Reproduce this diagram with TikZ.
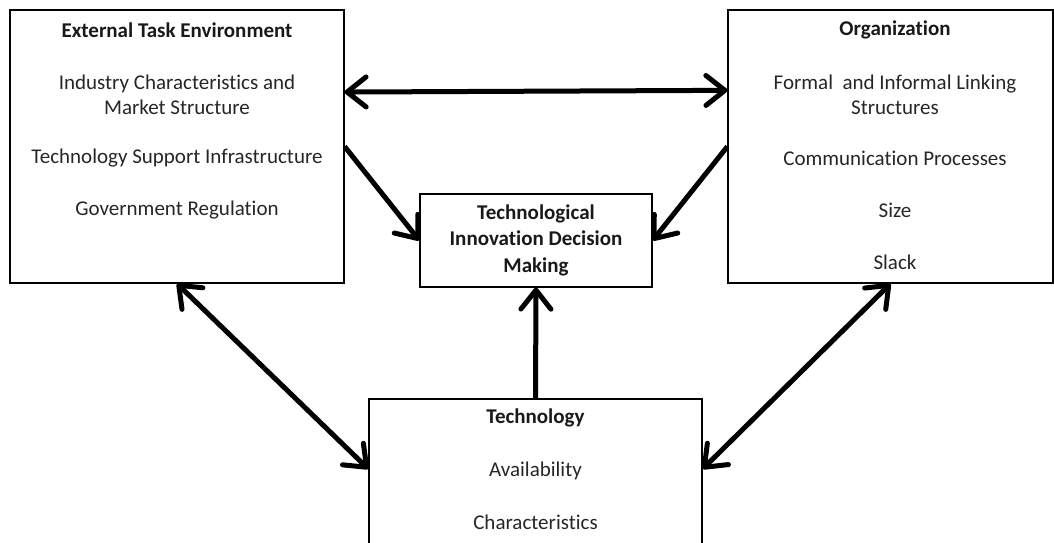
\documentclass[tikz,border=0pt]{standalone}
\usepackage{fontspec}
\setmainfont{Carlito}[Ligatures=NoCommon]
\usetikzlibrary{arrows.meta}

\begin{document}
\begin{tikzpicture}[x=1pt,y=-1pt,
  box/.style={draw, line width=1.2pt, inner sep=0pt},
  head/.style={font=\fontsize{21}{25}\selectfont\bfseries, text=black!90},
  item/.style={font=\fontsize{21}{25}\selectfont, text=black!85, align=center},
  arr/.style={line width=5pt, -{Straight Barb[length=19pt,width=30pt,round]}},
  darr/.style={line width=5pt, {Straight Barb[length=19pt,width=30pt,round]}-{Straight Barb[length=19pt,width=30pt,round]}}]
\useasboundingbox (0,0) rectangle (1054,542);
% boxes
\node[box, minimum width=334pt, minimum height=273pt] (env) at (177,146.5) {};
\node[box, minimum width=325pt, minimum height=273pt] (org) at (890.5,146.5) {};
\node[box, minimum width=232pt, minimum height=93pt] (tidm) at (536,240.5) {};
\node[box, minimum width=333pt, minimum height=181pt] (tech) at (535.5,489.5) {};
% left box
\node[head] (envhead) at (177,30) {External Task Environment};
\node[item] (industry) at (177,95) {Industry Characteristics and\\Market Structure};
\node[item] (infra) at (177,158) {Technology Support Infrastructure};
\node[item] (regul) at (177,210) {Government Regulation};
% right box
\node[head] (orghead) at (895,30) {Organization};
\node[item] (linking) at (895,95) {Formal\ \ and Informal Linking\\Structures};
\node[item] (comm) at (895,158) {Communication Processes};
\node[item] (size) at (895,210) {Size};
\node[item] (slack) at (895,262) {Slack};
% centre box
\node[head, align=center, font=\fontsize{21}{26.5}\selectfont\bfseries] (tidmtext) at (536,240) {Technological\\Innovation Decision\\Making};
% bottom box
\node[head] (techhead) at (535.5,418) {Technology};
\node[item] (avail) at (535.5,471) {Availability};
\node[item] (charac) at (535.5,522) {Characteristics};
% arrows
\draw[darr] (env.18) -- (org.161);
\draw[arr] (env.east) -- (tidm.west);
\draw[arr] (org.west) -- (tidm.east);
\draw[arr] (tech.north) -- (tidm.south);
\draw[darr] (env.south) -- (tech.173);
\draw[darr] (org.south) -- (tech.7);
\end{tikzpicture}
\end{document}
